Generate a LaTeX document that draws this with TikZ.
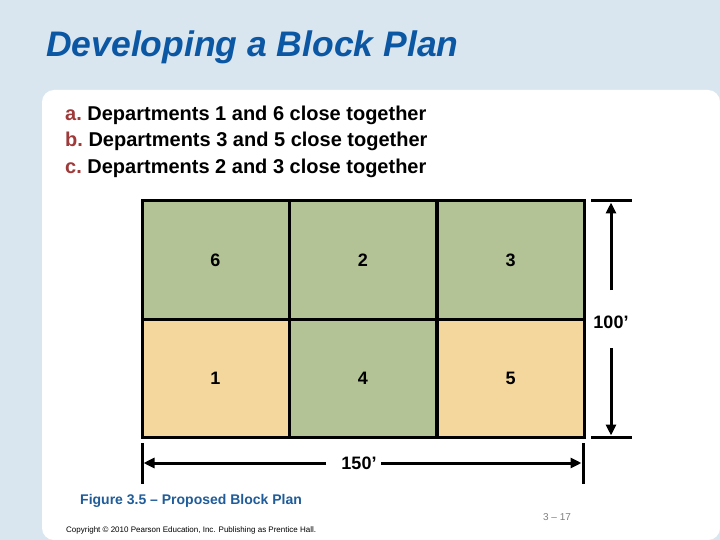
\documentclass[tikz,border=0pt]{standalone}
\usepackage{fontspec}
\setmainfont{Liberation Sans}
\usetikzlibrary{arrows.meta}
\definecolor{bgblue}{HTML}{DAE6EF}
\definecolor{titleblue}{HTML}{0B57A4}
\definecolor{capblue}{HTML}{1F5C99}
\definecolor{letterred}{HTML}{9E3A3A}
\definecolor{cellgreen}{HTML}{B3C395}
\definecolor{celltan}{HTML}{F3D79C}
\tikzset{
  cell/.style={draw=black, line width=3pt, minimum width=147pt, minimum height=118pt, inner sep=0pt, font=\fontsize{18}{20}\selectfont\bfseries},
  dim/.style={line width=3pt},
  dimarrow/.style={line width=3pt, -{Triangle[length=11pt,width=10pt]}},
  lbl/.style={font=\fontsize{18}{20}\selectfont\bfseries, inner sep=0pt},
  item/.style={anchor=base west, inner sep=0pt, font=\fontsize{20}{22}\selectfont\bfseries}
}
\begin{document}
\begin{tikzpicture}[x=1pt,y=-1pt]
\useasboundingbox (0,0) rectangle (720,540);
\fill[bgblue] (0,0) rectangle (720,540);
\fill[white, rounded corners=12pt] (42,540) -- (42,90) -- (720,90) -- (720,540) -- cycle;
\node[anchor=base west, inner sep=0pt, text=titleblue, font=\fontsize{35.5}{38}\selectfont\bfseries\itshape] (title) at (46,57) {Developing a Block Plan};
\node[item] (la) at (65,121) {\textcolor{letterred}{a.}\ Departments 1 and 6 close together};
\node[item] (lb) at (65,147) {\textcolor{letterred}{b.}\ Departments 3 and 5 close together};
\node[item] (lc) at (65,174) {\textcolor{letterred}{c.}\ Departments 2 and 3 close together};
% grid cells
\node[cell, fill=cellgreen] (c6) at (215.5,260) {6};
\node[cell, fill=cellgreen] (c2) at (363,260) {2};
\node[cell, fill=cellgreen] (c3) at (510.5,260) {3};
\node[cell, fill=celltan] (c1) at (215.5,378) {1};
\node[cell, fill=cellgreen] (c4) at (363,378) {4};
\node[cell, fill=celltan] (c5) at (510.5,378) {5};
% vertical dimension
\coordinate (vt1) at (591,201); \coordinate (vt2) at (632,201);
\coordinate (vb1) at (591,437); \coordinate (vb2) at (632,437);
\draw[dim] (vt1) -- (vt2);
\draw[dim] (vb1) -- (vb2);
\node[lbl] (h100) at (611,322) {100’};
\coordinate (vup0) at (611,290); \coordinate (vup1) at (611,202.5);
\coordinate (vdn0) at (611,348); \coordinate (vdn1) at (611,435.5);
\draw[dimarrow] (vup0) -- (vup1);
\draw[dimarrow] (vdn0) -- (vdn1);
% horizontal dimension
\coordinate (hl1) at (142,443); \coordinate (hl2) at (142,484);
\coordinate (hr1) at (583,443); \coordinate (hr2) at (583,484);
\draw[dim] (hl1) -- (hl2);
\draw[dim] (hr1) -- (hr2);
\node[lbl] (w150) at (359,463) {150’};
\coordinate (hlf0) at (326,463); \coordinate (hlf1) at (143.5,463);
\coordinate (hrt0) at (381,463); \coordinate (hrt1) at (581.5,463);
\draw[dimarrow] (hlf0) -- (hlf1);
\draw[dimarrow] (hrt0) -- (hrt1);
% caption and footer
\node[anchor=west, inner sep=0pt, text=capblue, font=\fontsize{14}{16}\selectfont\bfseries] (cap) at (80,501) {Figure 3.5 – Proposed Block Plan};
\node[inner sep=0pt, text=gray, font=\fontsize{10}{12}\selectfont] (pg) at (557,517) {3 – 17};
\node[anchor=west, inner sep=0pt, font=\fontsize{8}{9}\selectfont] (copy) at (66,530) {Copyright © 2010 Pearson Education, Inc. Publishing as Prentice Hall.};
\end{tikzpicture}
\end{document}
